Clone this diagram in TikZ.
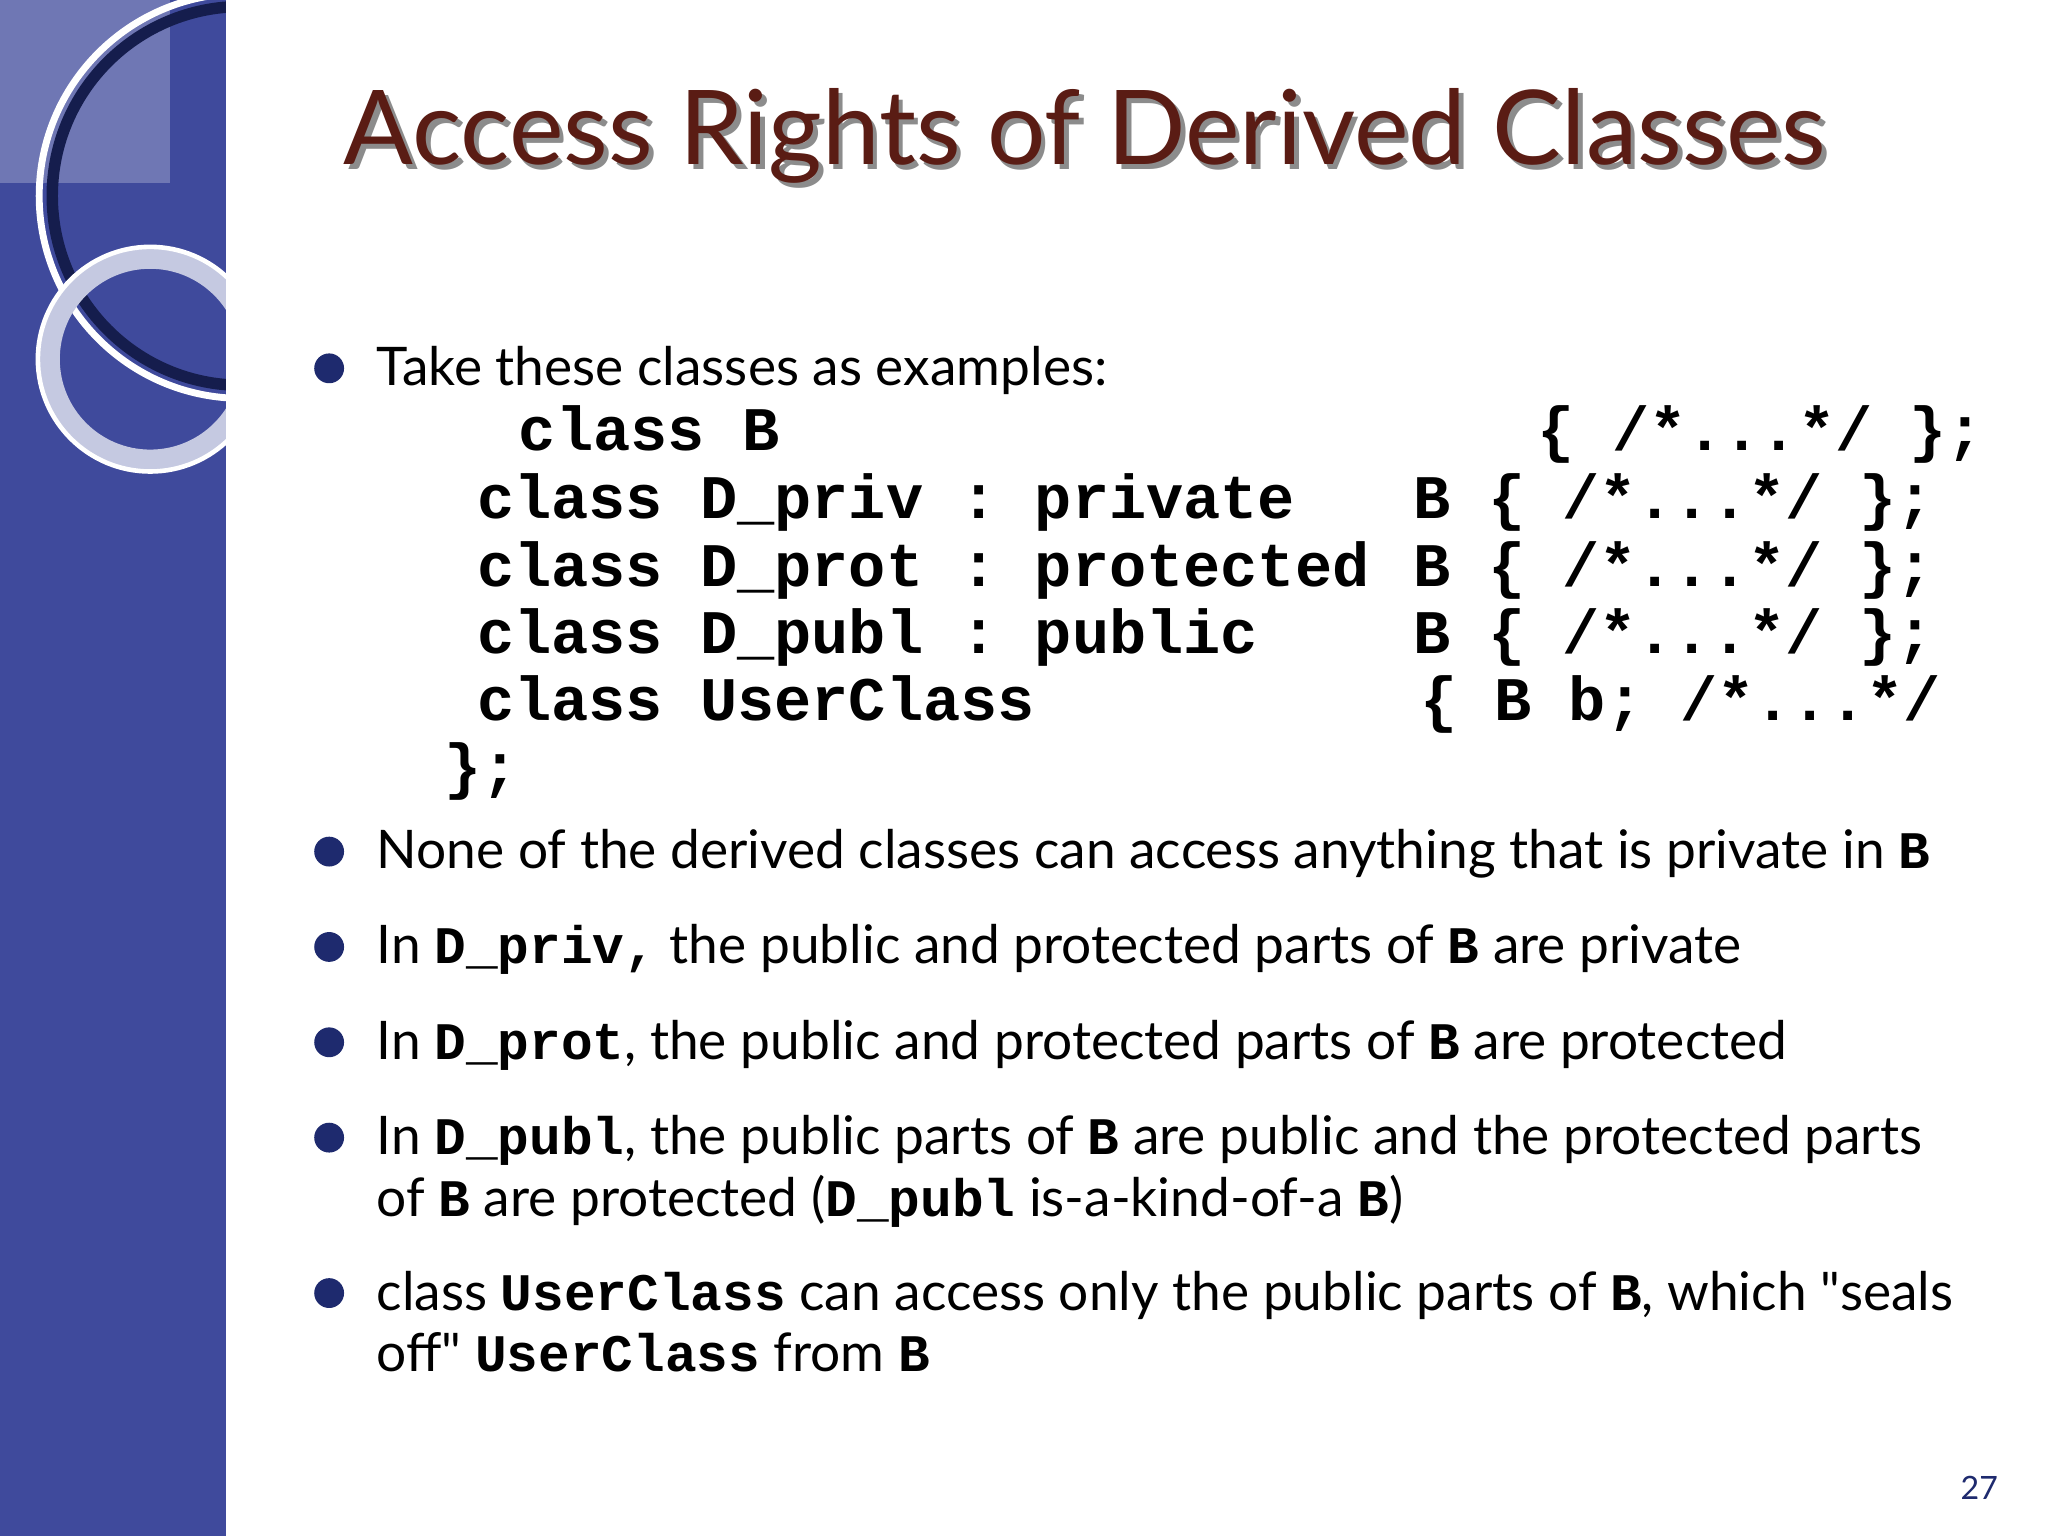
\documentclass[tikz,border=0pt]{standalone}
\usepackage{fontspec}
\setmainfont{Lato}
\newfontfamily\qf{Lato}[Ligatures=TeXOff]
\setmonofont{Liberation Mono}
\definecolor{band}{HTML}{3F4A9C}
\definecolor{ttl}{HTML}{5A1C14}
\definecolor{bul}{HTML}{1E2A6E}
\begin{document}
\begin{tikzpicture}[x=0.02cm,y=-0.02cm,
  code/.style={anchor=base west,inner sep=0,font=\fontsize{27}{30}\selectfont\ttfamily\bfseries},
  body/.style={anchor=base west,inner sep=0,font=\fontsize{23.2}{28}\selectfont,align=left},
  dot/.style={circle,fill=bul,inner sep=0,minimum size=13pt}]
\newcommand{\tc}[1]{{\fontsize{23}{28}\selectfont\ttfamily\bfseries #1}}
\useasboundingbox (0,0) rectangle (1568,1176);
\fill[white] (0,0) rectangle (1568,1176);
\fill[band] (0,0) rectangle (173,1176);
\begin{scope}
\clip (0,0) rectangle (173,1176);
\fill[white,opacity=0.25] (0,0) rectangle (130,140);
\draw[white,line width=3pt] (185,150) circle (155);
\draw[bul!70!black,line width=5pt] (185,150) circle (145);
\draw[white!70!band,line width=10pt] (115,275) circle (78);
\draw[white,line width=2pt] (115,275) circle (86);
\end{scope}
\node (title)[anchor=base west,inner sep=0,text=ttl,font=\fontsize{45}{50}\selectfont] at (263,126) {\rlap{\raisebox{-2pt}{\hspace{2pt}\textcolor{black!45}{Access Rights of Derived Classes}}}Access Rights of Derived Classes};
% code
\node (c1)[code] at (397,345) {class B};
\node (c1b)[code] at (1177,345) {\{ /*...*/ \};};
\node (c2)[code] at (365,397) {class D\_priv : private};
\node (c3)[code] at (365,449) {class D\_prot : protected};
\node (c4)[code] at (365,500) {class D\_publ : public};
\node (c2b)[code] at (1082,397) {B \{ /*...*/ \};};
\node (c3b)[code] at (1082,449) {B \{ /*...*/ \};};
\node (c4b)[code] at (1082,500) {B \{ /*...*/ \};};
\node (c5)[code] at (365,552) {class UserClass};
\node (c5b)[code] at (1087,552) {\{ B b; /*...*/};
\node (c6)[code] at (340,603) {\};};
% bullets
\foreach \y/\n in {282/b1,652/b2,725/b3,798/b4,871/b5,990/b6} \node (\n)[dot] at (252,\y) {};
\node (t1)[body] at (288,295) {Take these classes as examples:};
\node (t2)[body] at (288,665) {None of the derived classes can access anything that is private in \tc{B}};
\node (t3)[body] at (288,738) {In \tc{D\_priv,} the public and protected parts of \tc{B} are private};
\node (t4)[body] at (288,811) {In \tc{D\_prot}, the public and protected parts of \tc{B} are protected};
\node (t5)[body] at (288,884) {In \tc{D\_publ}, the public parts of \tc{B} are public and the protected parts};
\node (t5b)[body] at (288,931) {of \tc{B} are protected (\tc{D\_publ} is-a-kind-of-a \tc{B})};
\node (t6)[body] at (288,1003) {class \tc{UserClass} can access only the public parts of \tc{B}, which {\qf"}seals};
\node (t6b)[body] at (288,1050) {off{\qf"} \tc{UserClass} from \tc{B}};
\node (pg)[anchor=base east,inner sep=0,text=bul,font=\fontsize{14}{16}\selectfont\rmfamily] at (1530,1148) {27};
\end{tikzpicture}
\end{document}
